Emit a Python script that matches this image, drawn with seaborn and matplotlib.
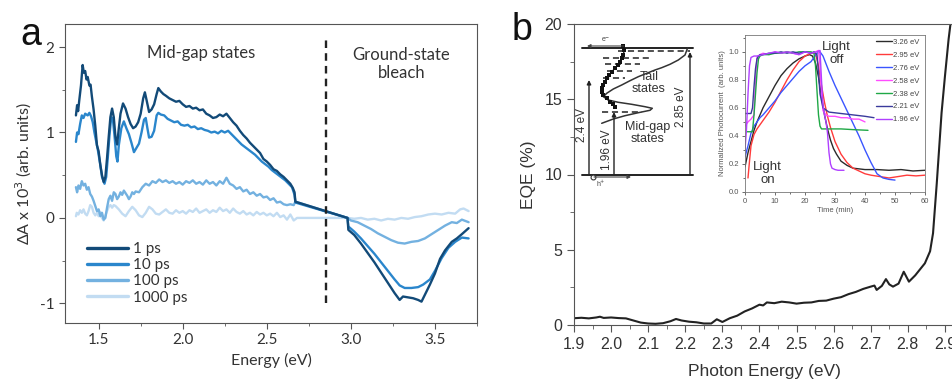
import numpy as np
import pandas as pd
import matplotlib.pyplot as plt
import seaborn as sns
from matplotlib.ticker import MultipleLocator

sns.set_style('ticks')
plt.rcParams['font.family'] = ['Liberation Sans', 'DejaVu Sans']
plt.rcParams['axes.edgecolor'] = '#555555'
plt.rcParams['xtick.color'] = '#555555'
plt.rcParams['ytick.color'] = '#555555'
plt.rcParams['xtick.labelcolor'] = '#333333'
plt.rcParams['ytick.labelcolor'] = '#333333'

# ---------------- panel a: transient absorption ----------------
e_1ps = [1.365, 1.372, 1.378, 1.385, 1.395, 1.405, 1.412, 1.42, 1.428, 1.435, 1.445, 1.452, 1.46, 1.47,
         1.48, 1.49, 1.50, 1.51, 1.52, 1.53, 1.54, 1.55, 1.56, 1.57, 1.58, 1.59, 1.60, 1.61, 1.62, 1.63,
         1.645, 1.66, 1.675, 1.69, 1.705, 1.72, 1.735, 1.75, 1.765, 1.775, 1.785, 1.80, 1.815, 1.83,
         1.845, 1.855, 1.87, 1.885, 1.90, 1.92, 1.94, 1.96, 1.98, 2.00, 2.02, 2.04, 2.06, 2.08, 2.10,
         2.12, 2.14, 2.16, 2.18, 2.20, 2.22, 2.24, 2.26, 2.28, 2.30, 2.32, 2.34, 2.36, 2.38, 2.40, 2.42,
         2.44, 2.46, 2.48, 2.50, 2.52, 2.54, 2.56, 2.58, 2.60, 2.62, 2.64, 2.655, 2.665, 2.67, 2.98,
         2.985, 3.02, 3.06, 3.10, 3.14, 3.18, 3.22, 3.26, 3.29, 3.31, 3.34, 3.37, 3.40, 3.42, 3.44, 3.47,
         3.50, 3.53, 3.56, 3.60, 3.63, 3.66, 3.70]
da_1ps = [1.20, 1.32, 1.25, 1.38, 1.55, 1.79, 1.70, 1.72, 1.62, 1.65, 1.55, 1.56, 1.42, 1.27,
          1.08, 0.85, 0.78, 0.62, 0.50, 0.42, 0.48, 0.70, 0.95, 1.18, 1.28, 1.18, 0.95, 0.86, 1.05, 1.22,
          1.34, 1.28, 1.18, 1.10, 1.05, 1.07, 1.12, 1.22, 1.40, 1.47, 1.38, 1.24, 1.27, 1.33,
          1.45, 1.52, 1.48, 1.45, 1.43, 1.40, 1.38, 1.36, 1.37, 1.33, 1.30, 1.31, 1.28, 1.29, 1.26,
          1.27, 1.22, 1.20, 1.17, 1.18, 1.21, 1.19, 1.22, 1.17, 1.12, 1.08, 1.02, 0.97, 0.93, 0.88, 0.84,
          0.80, 0.76, 0.69, 0.66, 0.62, 0.57, 0.55, 0.51, 0.48, 0.44, 0.40, 0.35, 0.30, 0.19, 0.00,
          -0.14, -0.20, -0.30, -0.41, -0.52, -0.64, -0.76, -0.88, -0.96, -0.92, -0.93, -0.94, -0.96, -0.98,
          -0.90, -0.78, -0.65, -0.48, -0.38, -0.28, -0.24, -0.19, -0.12]

e_10ps = [1.365, 1.372, 1.38, 1.39, 1.40, 1.41, 1.42, 1.435, 1.445, 1.455, 1.465, 1.475, 1.485, 1.495,
          1.51, 1.52, 1.535, 1.545, 1.555, 1.565, 1.575, 1.585, 1.595, 1.605, 1.612, 1.62, 1.635, 1.65,
          1.665, 1.68, 1.695, 1.71, 1.725, 1.74, 1.755, 1.77, 1.78, 1.79, 1.80, 1.815, 1.83, 1.845, 1.855,
          1.87, 1.89, 1.91, 1.93, 1.95, 1.97, 1.99, 2.01, 2.03, 2.05, 2.07, 2.09, 2.11, 2.13, 2.15, 2.17,
          2.19, 2.21, 2.23, 2.25, 2.27, 2.29, 2.31, 2.33, 2.35, 2.37, 2.39, 2.41, 2.43, 2.45, 2.47, 2.49,
          2.51, 2.53, 2.55, 2.57, 2.59, 2.61, 2.63, 2.65, 2.665, 2.67, 2.98, 2.985, 3.02, 3.06, 3.10,
          3.14, 3.18, 3.22, 3.26, 3.29, 3.32, 3.36, 3.40, 3.43, 3.47, 3.50, 3.54, 3.58, 3.62, 3.66, 3.70]
da_10ps = [0.89, 1.00, 0.98, 1.10, 1.20, 1.17, 1.22, 1.20, 1.23, 1.19, 1.12, 1.00, 0.90, 0.80,
           0.62, 0.48, 0.40, 0.48, 0.72, 0.98, 1.18, 1.15, 0.95, 0.72, 0.66, 0.85, 1.05, 1.13,
           1.05, 0.98, 0.88, 0.77, 0.82, 0.87, 1.00, 1.15, 1.17, 1.05, 0.94, 0.95, 1.02, 1.20, 1.23,
           1.21, 1.20, 1.16, 1.14, 1.12, 1.13, 1.09, 1.08, 1.09, 1.06, 1.07, 1.04, 1.05, 1.03, 1.02, 1.00,
           1.01, 0.99, 1.02, 1.00, 1.02, 0.98, 0.94, 0.90, 0.86, 0.83, 0.80, 0.77, 0.74, 0.70, 0.66, 0.63,
           0.60, 0.56, 0.53, 0.50, 0.47, 0.44, 0.40, 0.36, 0.27, 0.18, 0.00, -0.10, -0.16, -0.24, -0.33,
           -0.42, -0.52, -0.62, -0.72, -0.79, -0.82, -0.82, -0.81, -0.78, -0.72, -0.62, -0.47, -0.35, -0.28,
           -0.23, -0.24]

e_100ps = [1.365, 1.372, 1.38, 1.39, 1.40, 1.41, 1.42, 1.43, 1.44, 1.45, 1.46, 1.47, 1.48, 1.49, 1.50,
           1.51, 1.52, 1.53, 1.54, 1.55, 1.56, 1.57, 1.58, 1.59, 1.60, 1.61, 1.62, 1.63, 1.64, 1.65, 1.66,
           1.67, 1.68, 1.69, 1.70, 1.71, 1.72, 1.74, 1.76, 1.78, 1.80, 1.82, 1.84, 1.86, 1.88, 1.90, 1.92,
           1.94, 1.96, 1.98, 2.00, 2.02, 2.04, 2.06, 2.08, 2.10, 2.12, 2.14, 2.16, 2.18, 2.20, 2.22, 2.24,
           2.26, 2.28, 2.30, 2.32, 2.34, 2.36, 2.38, 2.40, 2.42, 2.44, 2.46, 2.48, 2.50, 2.52, 2.54, 2.56,
           2.58, 2.60, 2.62, 2.64, 2.66, 2.67, 2.98, 3.00, 3.04, 3.08, 3.12, 3.16, 3.20, 3.24, 3.28, 3.32,
           3.36, 3.40, 3.44, 3.48, 3.52, 3.56, 3.60, 3.63, 3.66, 3.70]
da_100ps = [0.36, 0.30, 0.38, 0.34, 0.43, 0.38, 0.40, 0.33, 0.36, 0.28, 0.25, 0.20, 0.14, 0.08, 0.10,
            0.02, 0.06, -0.02, 0.00, 0.12, 0.22, 0.26, 0.20, 0.30, 0.28, 0.22, 0.25, 0.30, 0.27, 0.32, 0.29,
            0.26, 0.22, 0.25, 0.30, 0.28, 0.31, 0.30, 0.36, 0.40, 0.38, 0.43, 0.41, 0.45, 0.42, 0.44, 0.41,
            0.43, 0.40, 0.42, 0.39, 0.43, 0.41, 0.44, 0.40, 0.42, 0.39, 0.44, 0.40, 0.42, 0.38, 0.43, 0.40,
            0.47, 0.40, 0.38, 0.34, 0.36, 0.31, 0.33, 0.28, 0.30, 0.26, 0.28, 0.24, 0.25, 0.21, 0.23, 0.18,
            0.19, 0.16, 0.15, 0.16, 0.15, 0.19, 0.00, -0.03, -0.05, -0.09, -0.13, -0.18, -0.22, -0.26, -0.29,
            -0.30, -0.28, -0.27, -0.24, -0.19, -0.14, -0.09, -0.05, -0.06, -0.02, -0.05]

e_1000ps = [1.365, 1.37, 1.38, 1.39, 1.40, 1.41, 1.42, 1.43, 1.44, 1.45, 1.46, 1.47, 1.48, 1.49, 1.50,
            1.51, 1.52, 1.53, 1.54, 1.55, 1.56, 1.57, 1.58, 1.59, 1.60, 1.62, 1.64, 1.66, 1.68, 1.70, 1.72,
            1.74, 1.76, 1.78, 1.80, 1.82, 1.84, 1.86, 1.88, 1.90, 1.92, 1.94, 1.96, 1.98, 2.00, 2.02, 2.04,
            2.06, 2.08, 2.10, 2.12, 2.14, 2.16, 2.18, 2.20, 2.22, 2.24, 2.26, 2.28, 2.30, 2.32, 2.34, 2.36,
            2.38, 2.40, 2.42, 2.44, 2.46, 2.48, 2.50, 2.52, 2.54, 2.56, 2.58, 2.60, 2.62, 2.64, 2.66, 2.68,
            2.98, 3.02, 3.06, 3.10, 3.14, 3.18, 3.22, 3.26, 3.30, 3.34, 3.38, 3.42, 3.46, 3.50, 3.54, 3.58,
            3.62, 3.65, 3.67, 3.70]
da_1000ps = [0.02, 0.06, 0.04, 0.09, 0.06, 0.10, 0.05, 0.03, 0.08, 0.15, 0.13, 0.06, 0.03, 0.06, 0.02,
             0.07, 0.00, -0.03, 0.03, 0.08, 0.13, 0.15, 0.12, 0.15, 0.14, 0.10, 0.05, 0.02, 0.08, 0.13, 0.09,
             0.03, 0.01, 0.06, 0.13, 0.10, 0.05, 0.04, 0.07, 0.10, 0.06, 0.05, 0.09, 0.06, 0.08, 0.05, 0.09,
             0.07, 0.11, 0.06, 0.08, 0.10, 0.06, 0.09, 0.07, 0.12, 0.08, 0.10, 0.06, 0.11, 0.07, 0.05, 0.08,
             0.04, 0.06, 0.03, 0.07, 0.04, 0.06, 0.03, 0.05, 0.02, 0.06, 0.01, 0.03, -0.02, 0.04, -0.03, 0.00,
             0.00, -0.01, 0.00, -0.02, -0.01, -0.03, -0.01, -0.02, 0.00, -0.01, 0.01, 0.02, 0.04, 0.05, 0.04,
             0.06, 0.05, 0.10, 0.11, 0.08]

delays = ['1 ps', '10 ps', '100 ps', '1000 ps']
delay_colors = ['#124a78', '#2a86cc', '#73b1e0', '#c2dcf2']
ta_x = [e_1ps, e_10ps, e_100ps, e_1000ps]
ta_y = [da_1ps, da_10ps, da_100ps, da_1000ps]

# ---------------- panel b: EQE ----------------
photon_e = [1.90, 1.92, 1.94, 1.96, 1.97, 1.98, 2.00, 2.02, 2.04, 2.06, 2.08, 2.10, 2.12, 2.14, 2.16,
            2.175, 2.19, 2.21, 2.23, 2.25, 2.27, 2.285, 2.30, 2.32, 2.34, 2.36, 2.38, 2.40, 2.41, 2.42,
            2.44, 2.46, 2.48, 2.50, 2.52, 2.54, 2.56, 2.58, 2.60, 2.62, 2.64, 2.66, 2.68, 2.70, 2.71,
            2.716, 2.73, 2.741, 2.75, 2.76, 2.775, 2.789, 2.803, 2.82, 2.846, 2.86, 2.868, 2.878, 2.891,
            2.90, 2.91, 2.92]
eqe = [0.45, 0.48, 0.44, 0.50, 0.55, 0.47, 0.50, 0.46, 0.44, 0.30, 0.16, 0.10, 0.08, 0.12, 0.25,
       0.40, 0.30, 0.22, 0.18, 0.10, 0.10, 0.38, 0.20, 0.45, 0.62, 0.90, 1.10, 1.35, 1.30, 1.50,
       1.45, 1.55, 1.50, 1.42, 1.48, 1.50, 1.60, 1.62, 1.75, 1.85, 2.05, 2.20, 2.40, 2.55, 2.62,
       2.33, 2.60, 3.05, 2.70, 2.55, 2.75, 3.54, 2.88, 3.30, 4.10, 4.90, 6.10, 9.40, 14.1,
       16.5, 19.0, 21.0]

# ---------------- inset: photocurrent transients ----------------
t_326 = [0, 1, 2, 3, 4, 5, 6, 7, 8, 10, 12, 14, 16, 18, 20, 21.5, 22.5, 23.5, 24.5, 25.5, 26.5, 27.5,
         28.5, 29.5, 30.5, 32, 34, 36, 38, 40, 44, 48, 52, 56, 60]
pc_326 = [0.18, 0.28, 0.36, 0.44, 0.50, 0.55, 0.60, 0.64, 0.68, 0.76, 0.83, 0.88, 0.92, 0.95, 0.97, 0.98,
          0.97, 0.92, 0.82, 0.68, 0.55, 0.45, 0.37, 0.31, 0.27, 0.22, 0.19, 0.17, 0.165, 0.16, 0.16, 0.155,
          0.16, 0.15, 0.155]
t_295 = [1, 1.5, 2, 3, 4, 5, 6, 8, 10, 12, 14, 16, 18, 20, 22, 23.5, 24.5, 25.5, 26.5, 27.5, 28.5, 30,
         32, 34, 36, 38, 40, 42, 45, 48, 51, 54, 57, 60]
pc_295 = [0.10, 0.22, 0.33, 0.41, 0.45, 0.48, 0.51, 0.57, 0.64, 0.72, 0.80, 0.87, 0.93, 0.97, 0.99, 0.99,
          0.90, 0.76, 0.64, 0.54, 0.46, 0.36, 0.27, 0.21, 0.17, 0.15, 0.13, 0.12, 0.11, 0.10, 0.11, 0.12,
          0.115, 0.12]
t_276 = [0, 1, 2, 3, 4, 5, 6, 8, 10, 12, 14, 16, 18, 20, 22, 24, 25, 26, 28, 30, 32, 34, 36, 38, 40, 42,
         44, 46, 48, 50]
pc_276 = [0.25, 0.33, 0.42, 0.47, 0.50, 0.53, 0.55, 0.60, 0.65, 0.71, 0.76, 0.81, 0.86, 0.90, 0.93, 0.99,
          1.00, 0.97, 0.86, 0.76, 0.67, 0.58, 0.49, 0.40, 0.30, 0.21, 0.13, 0.10, 0.09, 0.085]
t_258 = [0, 1, 2, 3, 3.5, 4, 5, 6, 8, 10, 12, 14, 16, 18, 20, 22, 23.5, 24.5, 25, 25.5, 26, 27, 28, 30,
         32, 34, 36, 38, 40]
pc_258 = [0.47, 0.50, 0.52, 0.55, 0.80, 0.96, 0.98, 0.99, 0.98, 1.00, 0.99, 1.00, 0.99, 0.98, 1.00, 0.99,
          1.00, 1.01, 0.90, 0.70, 0.58, 0.55, 0.54, 0.54, 0.53, 0.53, 0.52, 0.52, 0.50]
t_238 = [0.5, 2.5, 3, 4, 4.5, 5, 6, 8, 10, 12, 14, 16, 18, 20, 22, 23, 23.5, 24, 24.5, 25, 25.5, 28, 32,
         36, 41]
pc_238 = [0.43, 0.43, 0.55, 0.85, 0.95, 0.97, 0.98, 0.98, 0.99, 0.99, 1.00, 0.99, 1.00, 1.00, 1.00, 0.99,
          0.90, 0.72, 0.55, 0.47, 0.45, 0.45, 0.45, 0.445, 0.44]
t_221 = [0, 1, 2, 2.5, 3, 3.5, 4, 4.5, 5, 6, 8, 10, 12, 14, 16, 18, 20, 22, 23, 24, 24.5, 25, 26, 28, 32,
         36, 40, 43]
pc_221 = [0.56, 0.56, 0.56, 0.60, 0.75, 0.88, 0.95, 0.97, 0.98, 0.98, 0.99, 0.99, 1.00, 0.99, 1.00, 0.99,
          1.00, 0.99, 1.00, 0.98, 0.85, 0.70, 0.60, 0.57, 0.56, 0.55, 0.54, 0.53]
t_196 = [0, 0.5, 1, 1.5, 2, 3, 4, 6, 8, 10, 12, 14, 16, 18, 20, 22, 24, 25, 25.5, 26, 26.5, 27, 27.5, 28,
         28.5, 29, 30, 31, 33]
pc_196 = [0.30, 0.45, 0.70, 0.90, 0.96, 0.97, 0.97, 0.98, 0.99, 1.00, 0.99, 1.00, 0.99, 0.98, 1.00, 0.99,
          1.00, 1.01, 0.80, 0.62, 0.55, 0.50, 0.42, 0.28, 0.20, 0.17, 0.16, 0.155, 0.155]

pc_labels = ['3.26 eV', '2.95 eV', '2.76 eV', '2.58 eV', '2.38 eV', '2.21 eV', '1.96 eV']
pc_colors = ['#2b2b2b', '#ff3b3b', '#3a55ff', '#ff4dff', '#1fa846', '#3a3a9c', '#b040ff']
pc_t = [t_326, t_295, t_276, t_258, t_238, t_221, t_196]
pc_y = [pc_326, pc_295, pc_276, pc_258, pc_238, pc_221, pc_196]

# ---------------- inset: band diagram (drawn in pixel units of its box) ----------------
band_x = [582, 693]
cb_y = 47.5
vb_y = 174.5
dos_x = [687.7, 685, 678.3, 670, 661.7, 655, 646.7, 638.3, 630, 621.7, 613.3, 606.7, 603.3, 608.3, 618.3,
         631.7, 645, 652.3, 650, 638.3, 625, 613.3, 601.7]
dos_y = [47.7, 55, 60, 64.3, 67.7, 70, 73.3, 76.7, 80.7, 85, 89, 93.3, 96.7, 100, 102.3, 104.3, 106.7,
         108.3, 110.3, 112.7, 115.7, 119, 123.3]
pts_x = [623.3, 624.3, 623.3, 621.7, 620, 617.7, 615, 611.7, 609, 606.7, 605, 603.3, 601.7, 601.7, 603.3,
         606.7, 610, 613.3, 615]
pts_y = [45.7, 50, 55, 58.3, 61.7, 65, 68.3, 71.7, 75, 78.3, 81.7, 85, 88.3, 91.7, 95, 98.3, 101.7, 104.3,
         106.7]
trap_y = [51, 57.7, 64.3, 71, 77.7, 112.3]
trap_x0 = [618, 603, 605, 607, 603, 602]
trap_x1 = [690, 652, 640, 632, 625, 642]
arrow_x = [589, 614, 690]
arrow_top = [80, 112, 52]
arrow_text = ['2.4 eV', '1.96 eV', '2.85 eV']
arrow_text_xy = [(582, 125), (607, 150), (681, 107)]

fig = plt.figure(figsize=(9.52, 3.79), dpi=100)
W, H = 952, 379


def box(l, t, r, b):
    return [l / W, 1 - b / H, (r - l) / W, (b - t) / H]


# ===== panel a =====
axa = fig.add_axes(box(65, 24, 477, 323))
for lab, col, xs, ys in reversed(list(zip(delays, delay_colors, ta_x, ta_y))):
    sns.lineplot(x=xs, y=ys, ax=axa, color=col, lw=1.7, sort=False, estimator=None, label=lab)
axa.vlines(2.85, -1.0, 2.13, colors='#222222', linestyles=(0, (3.2, 2.2)), lw=1.7)
axa.set_xlim(1.30, 3.75)
axa.set_ylim(-1.23, 2.27)
axa.xaxis.set_major_locator(MultipleLocator(0.5))
axa.xaxis.set_minor_locator(MultipleLocator(0.25))
axa.yaxis.set_major_locator(MultipleLocator(1))
axa.yaxis.set_minor_locator(MultipleLocator(0.5))
axa.set_yticks([-1, 0, 1, 2], ['-1', '0', '1', '2'])
axa.tick_params(which='major', length=4, labelsize=11, direction='out')
axa.tick_params(which='minor', length=2.5, direction='out')
axa.set_xlabel('Energy (eV)', fontsize=11.5, family=['Lato', 'DejaVu Sans'], color='#333333')
axa.set_ylabel('ΔA x 10$^3$ (arb. units)', fontsize=11.5, family=['Lato', 'DejaVu Sans'],
               color='#333333', labelpad=4)
for lbl in axa.get_xticklabels() + axa.get_yticklabels():
    lbl.set_family(['Lato', 'DejaVu Sans'])
axa.text(2.11, 1.93, 'Mid-gap states', ha='center', va='center', fontsize=12,
         family=['Lato', 'DejaVu Sans'], color='#333333')
axa.text(3.30, 1.80, 'Ground-state\nbleach', ha='center', va='center', fontsize=12,
         family=['Lato', 'DejaVu Sans'], color='#333333', linespacing=1.15)
h, l = axa.get_legend_handles_labels()
order = [l.index(d) for d in delays]
leg = axa.legend([h[i] for i in order], [l[i] for i in order], loc='lower left',
                 bbox_to_anchor=(0.02, 0.015), frameon=False, handlelength=2.7, labelspacing=0.15,
                 handletextpad=0.3, prop={'family': ['Lato', 'DejaVu Sans'], 'size': 11})
for t in leg.get_texts():
    t.set_color('#333333')
for ln in leg.get_lines():
    ln.set_linewidth(2.4)
fig.text(20 / W, 1 - 35 / H, 'a', fontsize=27, va='center', ha='left', color='#111111')

# ===== panel b =====
axb = fig.add_axes(box(574, 24, 982, 325))
sns.lineplot(x=photon_e, y=eqe, ax=axb, color='#222222', lw=1.5, sort=False, estimator=None)
axb.set_xlim(1.9, 3.0)
axb.set_ylim(0, 20)
axb.xaxis.set_major_locator(MultipleLocator(0.1))
axb.xaxis.set_minor_locator(MultipleLocator(0.05))
axb.yaxis.set_major_locator(MultipleLocator(5))
axb.yaxis.set_minor_locator(MultipleLocator(2.5))
axb.tick_params(which='major', length=5, labelsize=11.5, direction='out')
axb.tick_params(which='minor', length=3, direction='out')
axb.set_xlabel('Photon Energy (eV)', fontsize=12.5, color='#333333')
axb.xaxis.set_label_coords((764 - 574) / 408, -0.13)
axb.set_ylabel('EQE (%)', fontsize=12.5, color='#333333', labelpad=6)
fig.text(512 / W, 1 - 30 / H, 'b', fontsize=27, va='center', ha='left', color='#111111')

# ===== inset: photocurrent =====
axi = fig.add_axes(box(745, 35, 925, 192))
for lab, col, ts, ys in zip(pc_labels, pc_colors, pc_t, pc_y):
    sns.lineplot(x=ts, y=ys, ax=axi, color=col, lw=1.0, sort=False, estimator=None, label=lab)
axi.set_xlim(0, 60)
axi.set_ylim(0, 1.12)
axi.xaxis.set_major_locator(MultipleLocator(10))
axi.xaxis.set_minor_locator(MultipleLocator(5))
axi.yaxis.set_major_locator(MultipleLocator(0.2))
axi.yaxis.set_minor_locator(MultipleLocator(0.1))
axi.tick_params(which='major', length=2.5, labelsize=5.5, pad=1.5, width=0.6, labelcolor='#555555')
axi.tick_params(which='minor', length=1.5, width=0.6)
for s in axi.spines.values():
    s.set_linewidth(0.6)
    s.set_edgecolor('#777777')
axi.set_xlabel('Time (min)', fontsize=5.5, color='#555555', labelpad=2)
axi.set_ylabel('Normalized Photocurrent  (arb. units)', fontsize=5.5, color='#555555', labelpad=2)
axi.text(30.5, 0.99, 'Light\noff', ha='center', va='center', fontsize=9.5, color='#333333',
         linespacing=1.1)
axi.text(7.5, 0.13, 'Light\non', ha='center', va='center', fontsize=9.5, color='#333333',
         linespacing=1.1)
legi = axi.legend(loc='upper right', bbox_to_anchor=(1.0, 1.01), frameon=False, fontsize=5.5,
                  handlelength=2.0, labelspacing=0.72, handletextpad=0.2, borderaxespad=0.3)
for t in legi.get_texts():
    t.set_color('#444444')

# ===== inset: band diagram =====
axd = fig.add_axes(box(575, 25, 700, 190))
axd.set_xlim(575, 700)
axd.set_ylim(190, 25)
axd.axis('off')
axd.plot(band_x, [cb_y, cb_y], color='#222222', lw=1.4)
axd.plot(band_x, [vb_y, vb_y], color='#222222', lw=1.4)
for y0, x0, x1 in zip(trap_y, trap_x0, trap_x1):
    axd.plot([x0, x1], [y0, y0], color='#222222', lw=1.1, ls=(0, (4, 2.5)))
sns.lineplot(x=dos_x, y=dos_y, ax=axd, color='#333333', lw=1.1, sort=False, estimator=None)
sns.lineplot(x=pts_x, y=pts_y, ax=axd, color='#111111', lw=0.9, sort=False, estimator=None,
             marker='s', markersize=2.4, markeredgewidth=0)
for ax_x, top in zip(arrow_x, arrow_top):
    axd.annotate('', xy=(ax_x, top), xytext=(ax_x, vb_y),
                 arrowprops=dict(arrowstyle='-|>', color='#222222', lw=1.0, mutation_scale=6,
                                 shrinkA=0, shrinkB=0))
for txt, (tx, ty) in zip(arrow_text, arrow_text_xy):
    axd.text(tx, ty, txt, rotation=90, ha='center', va='center', fontsize=8.5, color='#333333')
axd.annotate('', xy=(587, 46), xytext=(624, 46),
             arrowprops=dict(arrowstyle='-|>', color='#444444', lw=0.8, mutation_scale=5,
                             shrinkA=0, shrinkB=0))
axd.text(606, 40, 'e$^{-}$', ha='center', va='center', fontsize=5, color='#444444')
axd.annotate('', xy=(631, 177), xytext=(594, 177),
             arrowprops=dict(arrowstyle='-|>', color='#444444', lw=0.8, mutation_scale=5,
                             shrinkA=0, shrinkB=0))
axd.plot([593], [177], marker='o', markersize=3.5, mfc='white', mec='#333333', mew=0.8)
axd.text(601, 184, 'h$^{+}$', ha='center', va='center', fontsize=5, color='#444444')
axd.text(649, 83, 'Tail\nstates', ha='center', va='center', fontsize=9, color='#333333',
         linespacing=1.05)
axd.text(648, 133, 'Mid-gap\nstates', ha='center', va='center', fontsize=9, color='#333333',
         linespacing=1.05)

fig.savefig('out.png', dpi=100)
